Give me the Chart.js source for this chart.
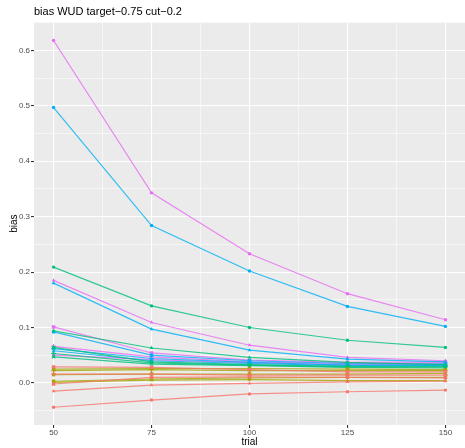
<!DOCTYPE html>
<html>
<head>
<meta charset="utf-8">
<script src="https://cdn.jsdelivr.net/npm/chart.js@4"></script>
<style>
  html, body { margin: 0; padding: 0; background: #ffffff; }
  #wrap { width: 465px; height: 448px; }
</style>
</head>
<body>
<div id="wrap"><canvas id="c" width="465" height="448"></canvas></div>
<script>
// ---- data ----
const trials = [50, 75, 100, 125, 150];
const yTickLabels = ["0.0", "0.1", "0.2", "0.3", "0.4", "0.5", "0.6"];
const xTickLabels = ["50", "75", "100", "125", "150"];

// red group
const red1 = [0.029, 0.028, 0.024, 0.020, 0.020];
const red2 = [0.016, 0.016, 0.014, 0.014, 0.014];
const red3 = [-0.002, 0.010, 0.011, 0.010, 0.009];
const red4 = [-0.015, -0.004, -0.001, 0.002, 0.003];
const red5 = [-0.044, -0.031, -0.020, -0.016, -0.013];
// olive group
const olive1 = [0.025, 0.026, 0.026, 0.025, 0.024];
const olive2 = [0.022, 0.024, 0.022, 0.022, 0.022];
const olive3 = [0.015, 0.016, 0.016, 0.016, 0.017];
const olive4 = [0.003, 0.007, 0.009, 0.010, 0.010];
const olive5 = [0.001, 0.005, 0.006, 0.004, 0.004];
// green group
const green1 = [0.209, 0.139, 0.100, 0.077, 0.064];
const green2 = [0.094, 0.063, 0.046, 0.037, 0.033];
const green3 = [0.064, 0.038, 0.033, 0.030, 0.030];
const green4 = [0.053, 0.036, 0.032, 0.029, 0.029];
const green5 = [0.047, 0.034, 0.031, 0.028, 0.027];
// cyan group
const cyan1 = [0.497, 0.284, 0.202, 0.138, 0.102];
const cyan2 = [0.180, 0.097, 0.059, 0.043, 0.038];
const cyan3 = [0.092, 0.050, 0.040, 0.035, 0.034];
const cyan4 = [0.062, 0.044, 0.037, 0.032, 0.032];
const cyan5 = [0.058, 0.040, 0.035, 0.031, 0.031];
// magenta group
const magenta1 = [0.618, 0.343, 0.233, 0.161, 0.114];
const magenta2 = [0.185, 0.109, 0.068, 0.046, 0.040];
const magenta3 = [0.101, 0.054, 0.041, 0.037, 0.038];
const magenta4 = [0.066, 0.047, 0.038, 0.035, 0.036];
const magenta5 = [0.050, 0.042, 0.036, 0.033, 0.034];

const groupColors = {
  red: "248,118,109",
  olive: "163,165,0",
  green: "0,191,125",
  cyan: "0,176,246",
  magenta: "231,107,243"
};
const shapeRadius = { circle: 1.7, triangle: 2.2, rect: 2.4, cross: 2.4, crossRot: 2.2 };

const groups = [
  ["red", [red1, red2, red3, red4, red5]],
  ["olive", [olive1, olive2, olive3, olive4, olive5]],
  ["green", [green1, green2, green3, green4, green5]],
  ["cyan", [cyan1, cyan2, cyan3, cyan4, cyan5]],
  ["magenta", [magenta1, magenta2, magenta3, magenta4, magenta5]]
];

const shapeOrder = {
  red: ["rect", "cross", "rect", "triangle", "circle"],
  olive: ["rect", "cross", "rect", "rect", "triangle"],
  green: ["circle", "triangle", "rect", "cross", "crossRot"],
  cyan: ["circle", "triangle", "rect", "cross", "crossRot"],
  magenta: ["circle", "triangle", "rect", "cross", "crossRot"]
};

const datasets = [];
groups.forEach(([name, seriesList]) => {
  seriesList.forEach((vals, i) => {
    const shp = shapeOrder[name][i];
    datasets.push({
      label: name + (i + 1),
      data: trials.map((t, k) => ({ x: t, y: vals[k] })),
      borderColor: "rgba(" + groupColors[name] + ",0.8)",
      backgroundColor: "rgb(" + groupColors[name] + ")",
      pointBorderColor: "rgb(" + groupColors[name] + ")",
      pointBackgroundColor: "rgb(" + groupColors[name] + ")",
      borderWidth: 1.2,
      pointStyle: shp,
      pointRadius: shapeRadius[shp],
      pointBorderWidth: (shp === "cross" || shp === "crossRot") ? 1.1 : 0,
      pointHoverRadius: shapeRadius[shp],
      tension: 0,
      fill: false
    });
  });
});

const isMajorY = v => Math.abs(v * 10 - Math.round(v * 10)) < 1e-6;
const isMajorX = v => Math.abs((v - 50) / 25 - Math.round((v - 50) / 25)) < 1e-6;

const panelBg = {
  id: "panelBg",
  beforeDraw(chart) {
    const { ctx, chartArea: a } = chart;
    ctx.save();
    ctx.fillStyle = "#ffffff";
    ctx.fillRect(0, 0, chart.width, chart.height);
    ctx.fillStyle = "#EBEBEB";
    ctx.fillRect(a.left, a.top, a.right - a.left, a.bottom - a.top);
    ctx.restore();
  }
};

new Chart(document.getElementById("c"), {
  type: "line",
  data: { datasets },
  plugins: [panelBg],
  options: {
    responsive: false,
    animation: false,
    devicePixelRatio: 1,
    layout: { autoPadding: false, padding: { left: 0, right: 0, top: 0, bottom: 0 } },
    plugins: {
      legend: { display: false },
      tooltip: { enabled: false },
      title: {
        display: true,
        text: "bias WUD target\u22120.75 cut\u22120.2",
        align: "start",
        fullSize: false,
        color: "#000000",
        font: { family: "Liberation Sans, Arial, sans-serif", size: 11, weight: "normal" },
        padding: { top: 5, bottom: 4 }
      }
    },
    scales: {
      x: {
        type: "linear",
        min: 45,
        max: 155,
        afterFit(scale) {
          scale.height = 23;
          scale.paddingRight = 0;
          scale.paddingLeft = 0;
        },
        afterBuildTicks(scale) {
          const t = [];
          for (let v = 50; v <= 150.001; v += 12.5) t.push({ value: v });
          scale.ticks = t;
        },
        ticks: {
          autoSkip: false,
          maxRotation: 0,
          padding: 0,
          color: "#4D4D4D",
          font: { family: "Liberation Sans, Arial, sans-serif", size: 8 },
          callback: v => isMajorX(v) ? xTickLabels[Math.round((v - 50) / 25)] : ""
        },
        grid: {
          color: "#ffffff",
          lineWidth: ctx => isMajorX(ctx.tick.value) ? 1.1 : 0.55,
          tickColor: ctx => isMajorX(ctx.tick.value) ? "#333333" : "rgba(0,0,0,0)",
          tickLength: 3,
          drawTicks: true
        },
        border: { display: false },
        title: {
          display: true,
          text: "trial",
          color: "#000000",
          font: { family: "Liberation Sans, Arial, sans-serif", size: 10 },
          padding: { top: 0, bottom: 0 }
        }
      },
      y: {
        type: "linear",
        min: -0.076,
        max: 0.651,
        afterFit(scale) {
          scale.width = 34;
          scale.paddingTop = 0;
          scale.paddingBottom = 0;
        },
        afterBuildTicks(scale) {
          const t = [];
          for (let k = -1; k <= 13; k++) t.push({ value: k * 0.05 });
          scale.ticks = t;
        },
        ticks: {
          autoSkip: false,
          padding: 1,
          color: "#4D4D4D",
          font: { family: "Liberation Sans, Arial, sans-serif", size: 8 },
          callback: v => (isMajorY(v) && v >= -1e-9 && v <= 0.6 + 1e-9) ? yTickLabels[Math.round(v * 10)] : ""
        },
        grid: {
          color: "#ffffff",
          lineWidth: ctx => isMajorY(ctx.tick.value) ? 1.1 : 0.55,
          tickColor: ctx => isMajorY(ctx.tick.value) ? "#333333" : "rgba(0,0,0,0)",
          tickLength: 3,
          drawTicks: true
        },
        border: { display: false },
        title: {
          display: true,
          text: "bias",
          color: "#000000",
          font: { family: "Liberation Sans, Arial, sans-serif", size: 10 },
          padding: { top: 8, bottom: 0 }
        }
      }
    }
  }
});
</script>
</body>
</html>
